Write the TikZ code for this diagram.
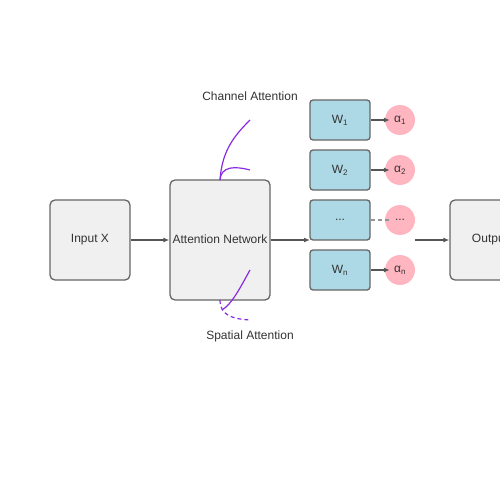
\documentclass[tikz,border=0pt]{standalone}
\usepackage{fontspec}
\setmainfont{Liberation Sans}
\usetikzlibrary{arrows.meta}
\definecolor{boxfill}{HTML}{F0F0F0}
\definecolor{boxline}{HTML}{666666}
\definecolor{wfill}{HTML}{ADD8E6}
\definecolor{cfill}{HTML}{FFB6C1}
\definecolor{arr}{HTML}{555555}
\definecolor{txt}{HTML}{333333}
\definecolor{purp}{HTML}{8A2BE2}
\newcommand{\up}[1]{\raisebox{2.5pt}{#1}}
\tikzset{
  graybox/.style={draw=boxline, line width=1.3pt, fill=boxfill, rounded corners=5pt, inner sep=0pt, text=txt, font=\fontsize{12}{14}\selectfont},
  wbox/.style={draw=boxline, line width=1.3pt, fill=wfill, rounded corners=3pt, minimum width=60pt, minimum height=40pt, inner sep=0pt, text=txt, font=\fontsize{12}{14}\selectfont},
  circ/.style={circle, fill=cfill, minimum size=30pt, inner sep=0pt, text=txt, font=\fontsize{12}{14}\selectfont},
  conn/.style={draw=arr, line width=1.2pt, -{Latex[length=6pt,width=5pt]}},
  lbl/.style={text=txt, font=\fontsize{12}{14}\selectfont, inner sep=0pt},
  pline/.style={draw=purp, line width=1.2pt},
}
\begin{document}
\begin{tikzpicture}[x=1pt,y=-1pt]
\useasboundingbox (0,0) rectangle (500,500);
\clip (0,0) rectangle (500,500);
\node[graybox, minimum width=80pt, minimum height=80pt] (in) at (90,240) {\up{Input X}};
\node[graybox, minimum width=100pt, minimum height=120pt] (att) at (220,240) {\up{Attention Network}};
\node[graybox, minimum width=80pt, minimum height=80pt] (out) at (490,240) {\up{Output}};
\node[wbox] (w1) at (340,120) {W\textsubscript{1}};
\node[wbox] (w2) at (340,170) {W\textsubscript{2}};
\node[wbox] (w3) at (340,220) {...};
\node[wbox] (w4) at (340,270) {W\textsubscript{n}};
\node[circ] (a1) at (400,120) {α\textsubscript{1}};
\node[circ] (a2) at (400,170) {α\textsubscript{2}};
\node[circ] (a3) at (400,220) {...};
\node[circ] (a4) at (400,270) {α\textsubscript{n}};
\draw[conn] (in.east) -- (att.west);
\coordinate (wend) at (310,240);
\draw[conn] (att.east) -- (wend);
\foreach \i in {1,2,4}{
  \coordinate (t\i) at ([xshift=5pt]a\i.west);
  \draw[conn] (w\i.east) -- (t\i);
}
\coordinate (t3) at ([xshift=5pt]a3.west);
\draw[draw=boxline!70, line width=1.2pt, dashed, dash pattern=on 4pt off 3pt] (w3.east) -- (t3);
\coordinate (ostart) at (415,240);
\draw[conn] (ostart) -- (out.west);
% channel attention
\coordinate (c0) at (220,180);
\coordinate (c1) at (250,120);
\coordinate (c2) at (250,170);
\draw[pline] (c0) .. controls (222,150) and (235,135) .. (c1);
\draw[pline] (c0) .. controls (221,166) and (235,166) .. (c2);
% spatial attention
\coordinate (s0) at (250,270);
\coordinate (s1) at (222,310);
\coordinate (s2) at (220,300);
\coordinate (s3) at (250,320);
\draw[pline] (s0) .. controls (240,288) and (232,304) .. (s1);
\draw[pline, dashed, dash pattern=on 4pt off 3pt] (s2) .. controls (220,315) and (232,319) .. (s3);
\node[lbl] (ch) at (250,96) {Channel Attention};
\node[lbl] (sp) at (250,336) {Spatial Attention};
\end{tikzpicture}
\end{document}
